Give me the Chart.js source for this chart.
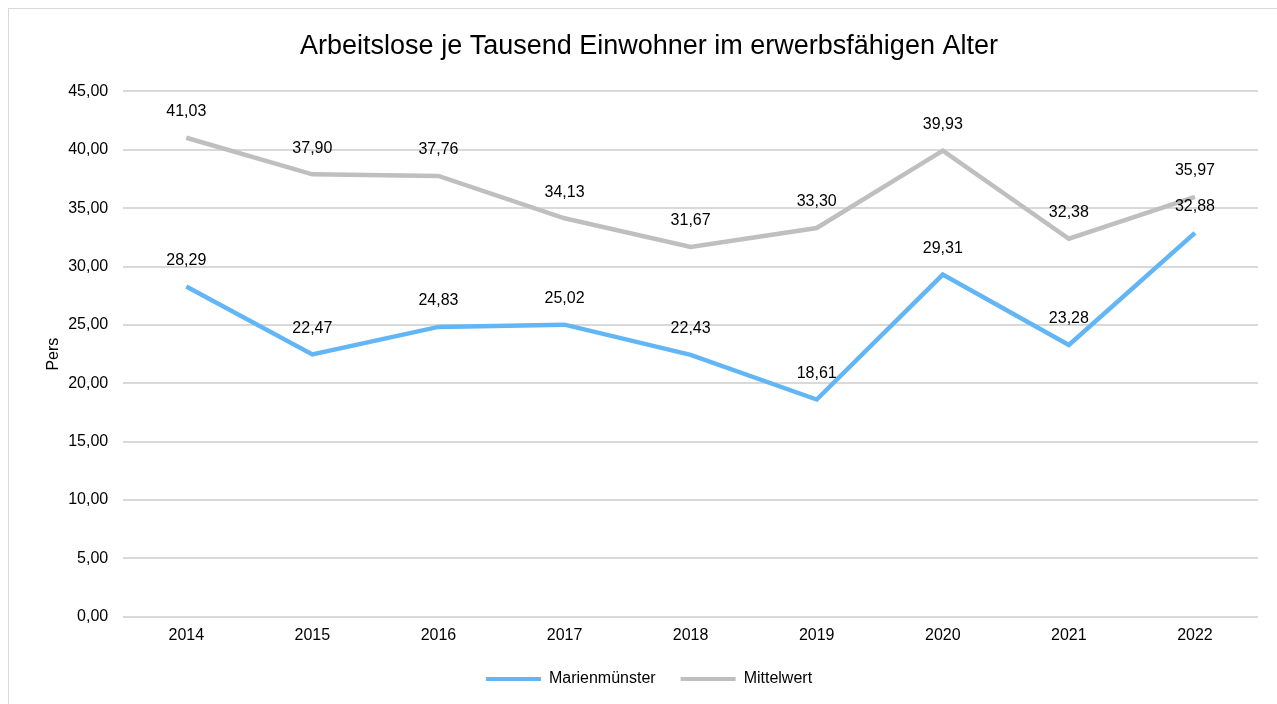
<!DOCTYPE html>
<html>
<head>
<meta charset="utf-8">
<script src="https://cdn.jsdelivr.net/npm/chart.js@4"></script>
<style>
  body { margin: 0; background: #fff; }
  #frame {
    position: absolute; left: 8px; top: 8px;
    width: 1290px; height: 720px;
    border: 1px solid #d9d9d9; box-sizing: border-box;
  }
  #wrap { position: absolute; left: 0; top: 0; width: 1277px; height: 704px; }
</style>
</head>
<body>
<div id="frame"></div>
<div id="wrap"><canvas id="arbeitsloseChart"></canvas></div>
<script>
const years = ['2014', '2015', '2016', '2017', '2018', '2019', '2020', '2021', '2022'];
const marienmuenster = [28.29, 22.47, 24.83, 25.02, 22.43, 18.61, 29.31, 23.28, 32.88];
const mittelwert = [41.03, 37.90, 37.76, 34.13, 31.67, 33.30, 39.93, 32.38, 35.97];

const fontFam = '"Liberation Sans", Arial, sans-serif';
const fmt = v => v.toFixed(2).replace('.', ',');

// draw the value above each point
const valueLabels = {
    id: 'valueLabels',
    afterDatasetsDraw(chart) {
        const c = chart.ctx;
        c.save();
        c.font = '16px ' + fontFam;
        c.fillStyle = '#000';
        c.textAlign = 'center';
        c.textBaseline = 'middle';
        chart.data.datasets.forEach((ds, i) => {
            chart.getDatasetMeta(i).data.forEach((pt, j) => {
                c.fillText(fmt(ds.data[j]), pt.x, pt.y - 26);
            });
        });
        c.restore();
    }
};

const ctx = document.getElementById('arbeitsloseChart');

new Chart(ctx, {
    type: 'line',
    data: {
        labels: years,
        datasets: [{
            label: 'Marienmünster',
            data: marienmuenster,
            borderColor: '#63b6f5',
            backgroundColor: '#63b6f5',
            borderWidth: 4.5,
            pointRadius: 0,
            tension: 0,
            fill: false,
        }, {
            label: 'Mittelwert',
            data: mittelwert,
            borderColor: '#bfbfbf',
            backgroundColor: '#bfbfbf',
            borderWidth: 4.5,
            pointRadius: 0,
            tension: 0,
            fill: false,
        }]
    },
    plugins: [valueLabels],
    options: {
        responsive: true,
        maintainAspectRatio: false,
        animation: false,
        layout: { padding: { left: 40, right: 19, top: 20, bottom: 7 } },
        plugins: {
            title: {
                display: true,
                text: 'Arbeitslose je Tausend Einwohner im erwerbsfähigen Alter',
                color: '#000',
                font: { family: fontFam, size: 27, weight: 'normal' },
                padding: { top: 10, bottom: 29 }
            },
            legend: {
                position: 'bottom',
                labels: {
                    color: '#000',
                    font: { family: fontFam, size: 16 },
                    boxWidth: 55,
                    boxHeight: 4,
                    padding: 25,
                    generateLabels(chart) {
                        return chart.data.datasets.map((ds, i) => ({
                            text: ds.label,
                            fillStyle: ds.borderColor,
                            strokeStyle: ds.borderColor,
                            lineWidth: 0,
                            datasetIndex: i
                        }));
                    }
                }
            },
            tooltip: { enabled: false }
        },
        scales: {
            y: {
                min: 0,
                max: 45,
                ticks: {
                    stepSize: 5,
                    color: '#000',
                    padding: 15,
                    font: { family: fontFam, size: 16 },
                    callback: v => fmt(v)
                },
                grid: { color: '#d9d9d9', lineWidth: 2, drawTicks: false },
                border: { display: false },
                title: {
                    display: true,
                    text: 'Pers',
                    color: '#000',
                    font: { family: fontFam, size: 16 },
                    padding: { top: 4, bottom: -10 }
                }
            },
            x: {
                offset: true,
                ticks: {
                    color: '#000',
                    padding: 1,
                    font: { family: fontFam, size: 16 }
                },
                grid: { display: false },
                border: { display: false }
            }
        }
    }
});
</script>
</body>
</html>
